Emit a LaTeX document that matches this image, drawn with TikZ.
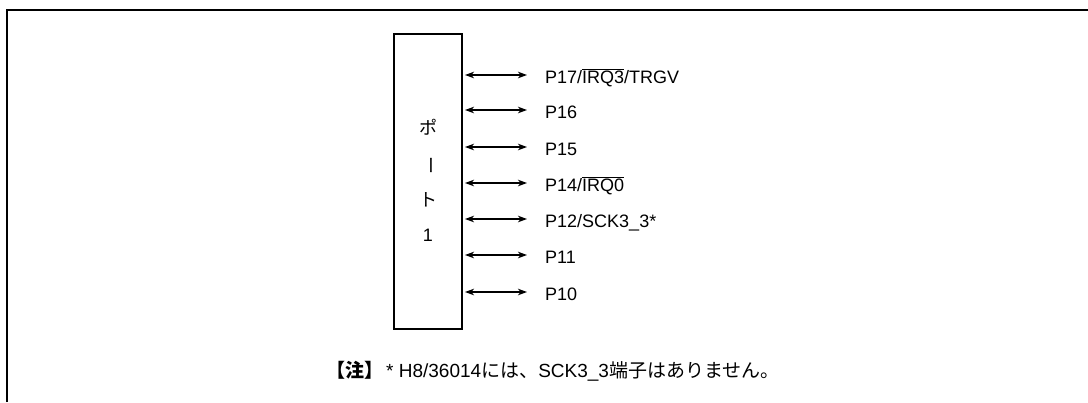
\documentclass[tikz,border=0pt]{standalone}
\usepackage{fontspec}
\setmainfont{Liberation Sans}
\newfontfamily\jp{Noto Sans CJK JP}
\usetikzlibrary{arrows.meta}
\tikzset{
  frame/.style={line width=2.5pt},
  portbox/.style={draw, line width=1.6pt, minimum width=68pt, minimum height=295pt, inner sep=0pt},
  boxtxt/.style={font=\fontsize{18}{20}\selectfont, inner sep=0pt},
  pinarrow/.style={line width=1.1pt, {Stealth[length=9pt,width=6.5pt,inset=2.5pt]}-{Stealth[length=9pt,width=6.5pt,inset=2.5pt]}},
  pinlabel/.style={font=\fontsize{18}{20}\selectfont, anchor=base west, inner sep=0pt},
  note/.style={font=\fontsize{19}{21}\selectfont, anchor=base west, inner sep=0pt}
}
\begin{document}
\begin{tikzpicture}[x=1pt,y=-1pt]
\useasboundingbox (0,0) rectangle (1088,402);
\coordinate (fbl) at (7,402);
\coordinate (ftl) at (7,10);
\coordinate (ftr) at (1088,10);
\draw[frame] (fbl) -- (ftl) -- (ftr);

\node[portbox] (port) at (428,181.5) {};
\node[boxtxt] (t1) at (428,127) {\jp ポ};
\node[boxtxt, rotate=-90] (t2) at (428,165) {\jp ー};
\node[boxtxt] (t3) at (428,200) {\jp ト};
\node[boxtxt] (t4) at (428,235) {1};

\foreach \i/\y/\lab in {
  7/75/{P17/$\overline{\mbox{IRQ3}}$/TRGV},
  6/110/{P16},
  5/147/{P15},
  4/183/{P14/$\overline{\mbox{IRQ0}}$},
  2/219/{P12/SCK3\_3*},
  1/255/{P11},
  0/292/{P10}}{
  \coordinate (aL\i) at (465,\y);
  \coordinate (aR\i) at (527,\y);
  \draw[pinarrow] (aL\i) -- (aR\i);
  \node[pinlabel] (l\i) at (545,\y+8.5) {\lab};
}

\node[note] (fn) at (326,377) {{\jp\bfseries 【注】}\hspace{3pt}* H8/36014{\jp には、}SCK3\_3{\jp 端子はありません。}};
\end{tikzpicture}
\end{document}
